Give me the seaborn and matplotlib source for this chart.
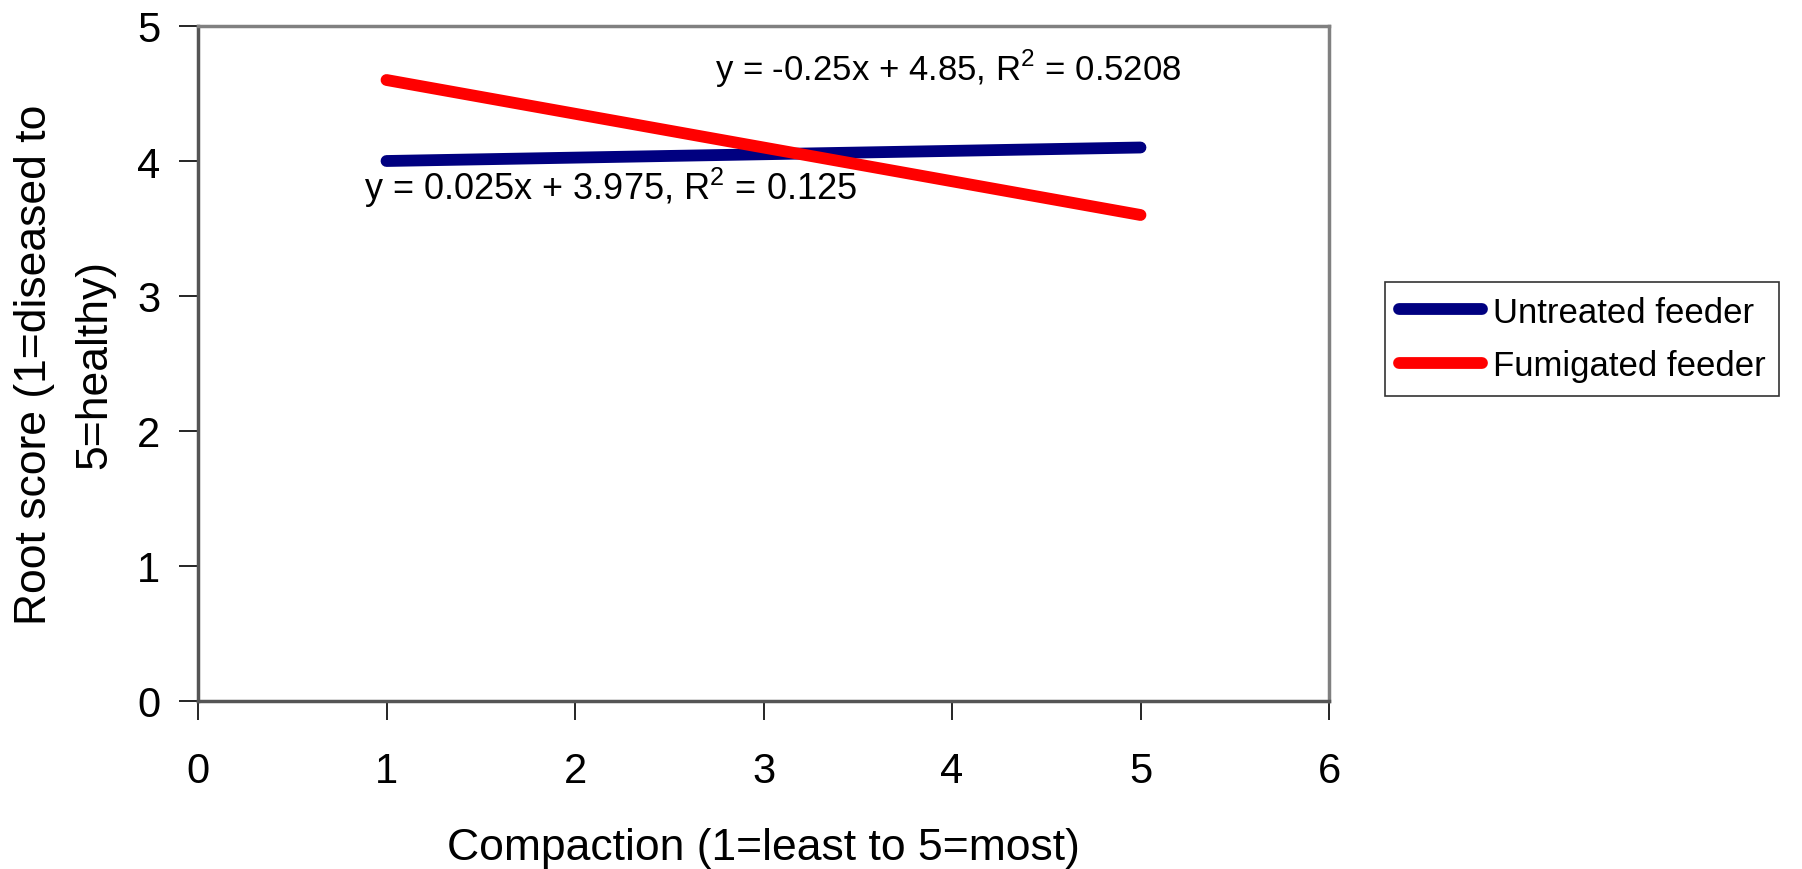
import matplotlib
matplotlib.use("Agg")
import matplotlib.pyplot as plt
import seaborn as sns
import pandas as pd

compaction = [1, 2, 3, 4, 5]
untreated = [4.0, 4.025, 4.05, 4.075, 4.1]
fumigated = [4.6, 4.35, 4.1, 3.85, 3.6]
series_names = ["Untreated feeder", "Fumigated feeder"]
eq_untreated = "y = 0.025x + 3.975, R$^2$ = 0.125"
eq_fumigated = "y = -0.25x + 4.85, R$^2$ = 0.5208"
x_ticks = [0, 1, 2, 3, 4, 5, 6]
y_ticks = [0, 1, 2, 3, 4, 5]

df = pd.DataFrame({
    "x": compaction * 2,
    "y": untreated + fumigated,
    "series": [series_names[0]] * len(compaction) + [series_names[1]] * len(compaction),
})

sns.set_theme(style="white")
plt.rcParams["font.family"] = ["Liberation Sans", "DejaVu Sans"]
plt.rcParams["mathtext.fontset"] = "custom"
plt.rcParams["mathtext.rm"] = "Liberation Sans"
plt.rcParams["text.color"] = "black"
plt.rcParams["axes.labelcolor"] = "black"
plt.rcParams["xtick.color"] = "black"
plt.rcParams["ytick.color"] = "black"

fig = plt.figure(figsize=(18.02, 8.70), dpi=100)
ax = fig.add_axes([198 / 1802, 1 - 702 / 870, (1329 - 198) / 1802, (702 - 27) / 870])

sns.lineplot(data=df, x="x", y="y", hue="series", palette=["#000080", "#FF0000"],
             linewidth=8.5, ax=ax, solid_capstyle="round", legend=True)

ax.set_xlim(0, 6)
ax.set_ylim(0, 5)
ax.set_xticks(x_ticks)
ax.set_yticks(y_ticks)
ax.tick_params(axis="both", direction="out", length=14, width=1.2,
               labelsize=30, left=True, bottom=True)
ax.tick_params(axis="x", pad=22)
ax.tick_params(axis="y", pad=13)

for side in ["top", "right"]:
    ax.spines[side].set_color("#808080")
    ax.spines[side].set_linewidth(2.5)
for side in ["left", "bottom"]:
    ax.spines[side].set_color("#555555")
    ax.spines[side].set_linewidth(2.5)

ax.set_xlabel("Compaction (1=least to 5=most)", fontsize=32, labelpad=26)
ax.set_ylabel("Root score (1=diseased to\n5=healthy)", fontsize=32, labelpad=16,
              linespacing=1.6)

ax.text(3.98, 4.69, eq_fumigated, fontsize=25, ha="center", va="center")
ax.text(2.19, 3.81, eq_untreated, fontsize=26, ha="center", va="center")

ax.legend(loc="center left", bbox_to_anchor=(1385 / 1802, 1 - 340 / 870),
          bbox_transform=fig.transFigure, borderaxespad=0, fontsize=25, frameon=True,
          fancybox=False, edgecolor="black", handlelength=2.4, handletextpad=0.3,
          labelspacing=0.6, borderpad=0.4, title=None)
leg = ax.get_legend()
leg.get_frame().set_linewidth(1.2)

fig.savefig("out.png", dpi=100, facecolor="white")
